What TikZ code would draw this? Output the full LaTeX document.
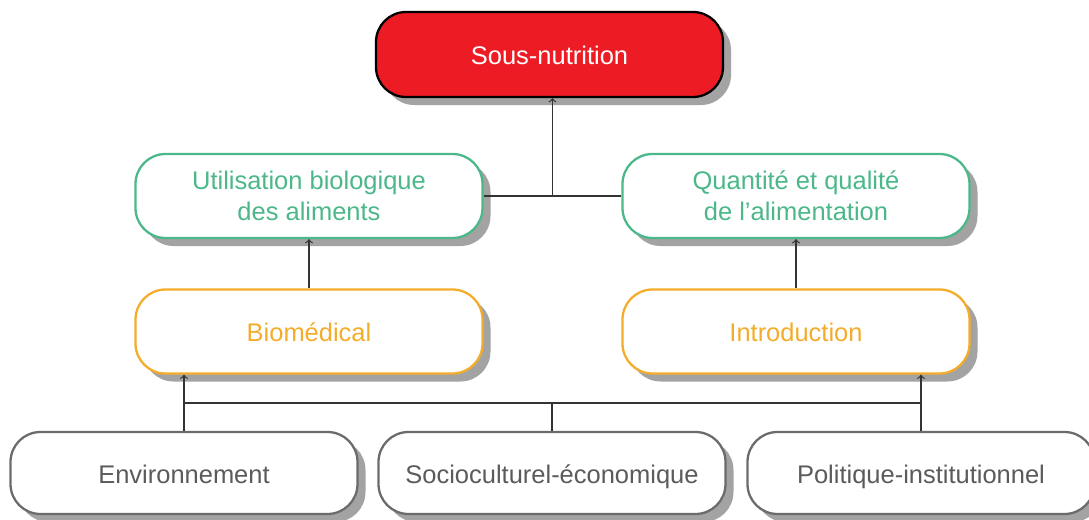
\documentclass[tikz,border=0pt]{standalone}
\usepackage{fontspec}
\setmainfont{Liberation Sans}
\usetikzlibrary{positioning,shadows,calc}
\definecolor{souscol}{HTML}{ED1C24}
\definecolor{vertcol}{HTML}{4CB889}
\definecolor{orcol}{HTML}{F3AD2B}
\definecolor{griscol}{HTML}{6B6B6B}
\definecolor{ombrecol}{HTML}{A3A3A3}
\begin{document}
\begin{tikzpicture}[
	boite/.style={rectangle, rounded corners=0.6cm, line width=1.3pt, fill=white,
		minimum width=6.94cm, minimum height=1.68cm,
		font=\fontsize{14.5}{17.5}\selectfont,
		drop shadow={shadow xshift=0.16cm, shadow yshift=-0.16cm, fill=ombrecol, opacity=1}},
	uneligne/.style={text height=11.5pt, text depth=0pt},
	rouge/.style={boite, uneligne, draw=black, fill=souscol, text=white, minimum height=1.7cm},
	verte/.style={boite, align=center, draw=vertcol, text=vertcol},
	orange/.style={boite, uneligne, draw=orcol, text=orcol},
	grise/.style={boite, uneligne, draw=griscol, text=griscol!85!black, minimum height=1.64cm},
	lien/.style={line width=0.7pt, draw=black!80},
	]
	\useasboundingbox (0,0) rectangle (21.78,10.38);
	%Nodes
	\node[rouge] (sous) at (10.99, 9.29) {Sous-nutrition};
	%
	\node[verte] (util) at (6.18, 6.46) {Utilisation biologique\\des aliments};
	\node[verte] (quant) at (15.92, 6.46) {Quantité et qualité\\de l’alimentation};
	%
	\node[orange] (bio) at (6.18, 3.75) {Biomédical};
	\node[orange] (intro) at (15.92, 3.75) {Introduction};
	%
	\node[grise] (env) at (3.68, 0.92) {Environnement};
	\node[grise] (socio) at (11.04, 0.92) {Socioculturel-économique};
	\node[grise] (pol) at (18.42, 0.92) {Politique-institutionnel};
	
	%Liens
	\coordinate (milieu) at ($(util.east)!0.5!(quant.west)$);
	\draw[lien] (util.east) -- (quant.west);
	\draw[lien, ->] (milieu) -- (milieu |- sous.south);
	%
	\draw[lien, ->] (bio.north) -- (util.south);
	\draw[lien, ->] (intro.north) -- (quant.south);
	%
	\coordinate (barre) at (0, 2.32);
	\draw[lien, ->] (env.north) -- (env.north |- bio.south);
	\draw[lien, ->] (pol.north) -- (pol.north |- intro.south);
	\draw[lien] (env.north |- barre) -- (pol.north |- barre);
	\draw[lien] (socio.north) -- (socio.north |- barre);
\end{tikzpicture}
\end{document}
